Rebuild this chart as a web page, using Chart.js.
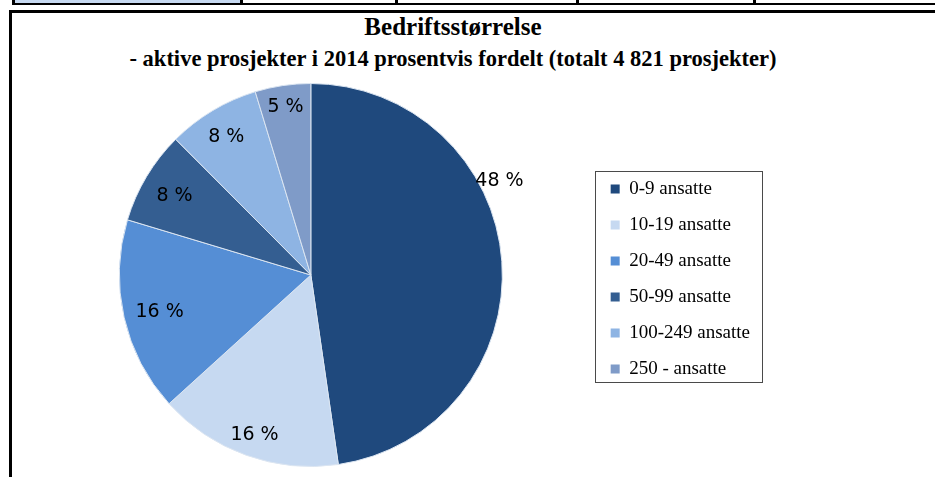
<!DOCTYPE html>
<html>
<head>
<meta charset="utf-8">
<script src="https://cdn.jsdelivr.net/npm/chart.js@4/dist/chart.umd.min.js"></script>
<style>
  html, body { margin: 0; padding: 0; background: #fff; overflow: hidden; }
  body { width: 935px; height: 477px; position: relative; }
  .strip { position: absolute; left: 12px; top: 0; width: 1000px; height: 3px; border-bottom: 2px solid #000; border-left: 3px solid #000; }
  .strip .cell { position: absolute; top: 0; height: 3px; }
  .strip .first { left: 0; width: 225px; background: #c6d9f1; }
  .strip .div { position: absolute; top: 0; width: 3px; height: 3px; background: #000; }
  .frame { position: absolute; left: 9px; top: 10px; width: 1000px; height: 600px; border: 3px solid #000; }
  .title { position: absolute; left: 13px; width: 880px; text-align: center; font-family: "Liberation Serif", serif; font-weight: bold; color: #000; }
  .t1 { top: 13px; font-size: 25px; line-height: 28px; }
  .t2 { top: 47px; font-size: 22.5px; line-height: 24px; }
  .wrap { position: absolute; left: 13px; top: 72px; width: 900px; height: 405px; }
</style>
</head>
<body>
<div class="strip">
  <div class="cell first"></div>
  <div class="div" style="left:225px"></div>
  <div class="div" style="left:380px"></div>
  <div class="div" style="left:561px"></div>
  <div class="div" style="left:738px"></div>
</div>
<div class="frame"></div>
<div class="title t1">Bedriftsstørrelse</div>
<div class="title t2">- aktive prosjekter i 2014 prosentvis fordelt (totalt 4 821 prosjekter)</div>
<div class="wrap"><canvas id="pie"></canvas></div>

<script>
const categories = ["0-9 ansatte", "10-19 ansatte", "20-49 ansatte", "50-99 ansatte", "100-249 ansatte", "250 - ansatte"];
// number of active projects per company size, 4 821 in total
const projects = [2300, 750, 790, 380, 375, 226];
const colors = ["#1f497d", "#c6d9f1", "#558ed5", "#345e91", "#8eb4e3", "#7f9bc8"];

// distance of each percentage label from the centre, as a share of the radius
const labelRadius = [1.1, 0.87, 0.81, 0.83, 0.86, 0.9];
// the large slice has its label outside the rim, a bit above its middle
const outsideAlong = 0.37;

const sliceLabels = {
  id: "sliceLabels",
  afterDatasetsDraw(chart) {
    const ctx = chart.ctx;
    const values = chart.data.datasets[0].data;
    const total = values.reduce((a, b) => a + b, 0);
    ctx.save();
    ctx.font = '19px "DejaVu Sans"';
    ctx.fillStyle = "#000";
    ctx.textAlign = "center";
    ctx.textBaseline = "middle";
    chart.getDatasetMeta(0).data.forEach((arc, i) => {
      const p = arc.getProps(["x", "y", "startAngle", "endAngle", "outerRadius"], true);
      const outside = labelRadius[i] > 1;
      const a = p.startAngle + (p.endAngle - p.startAngle) * (outside ? outsideAlong : 0.5);
      const r = p.outerRadius * labelRadius[i];
      const pct = Math.round(values[i] / total * 100);
      ctx.fillText(pct + " %", p.x + Math.cos(a) * r, p.y + Math.sin(a) * r + (outside ? 0 : 3));
    });
    ctx.restore();
  }
};

// thin frame around the legend entries
const legendBox = {
  id: "legendBox",
  afterDraw(chart) {
    const boxes = chart.legend.legendHitBoxes;
    if (!boxes || !boxes.length) return;
    const first = boxes[0], last = boxes[boxes.length - 1];
    const right = Math.max(...boxes.map(b => b.left + b.width));
    const ctx = chart.ctx;
    ctx.save();
    ctx.strokeStyle = "#4a4a4a";
    ctx.lineWidth = 1;
    ctx.strokeRect(Math.round(first.left - 16) + 0.5, Math.round(first.top - 9) + 0.5,
      Math.round(right - first.left + 28), Math.round(last.top + last.height - first.top + 12));
    ctx.restore();
  }
};

new Chart(document.getElementById("pie"), {
  type: "pie",
  data: {
    labels: categories,
    datasets: [{
      data: projects,
      backgroundColor: colors,
      borderColor: "#dbe5f1",
      borderWidth: 1
    }]
  },
  options: {
    responsive: true,
    maintainAspectRatio: false,
    animation: false,
    layout: { padding: { left: 15, right: 153, top: 11, bottom: 10 } },
    plugins: {
      tooltip: { enabled: false },
      legend: {
        position: "right",
        align: "center",
        // empty title only nudges the entries down a little
        title: { display: true, text: "", font: { size: 5 }, padding: 1 },
        labels: {
          boxWidth: 9,
          boxHeight: 9,
          padding: 17,
          color: "#000",
          font: { family: "Liberation Serif", size: 19 },
          generateLabels(chart) {
            const base = Chart.overrides.pie.plugins.legend.labels.generateLabels(chart);
            return base.map(item => ({ ...item, lineWidth: 0 }));
          }
        }
      }
    }
  },
  plugins: [sliceLabels, legendBox]
});
</script>
</body>
</html>
